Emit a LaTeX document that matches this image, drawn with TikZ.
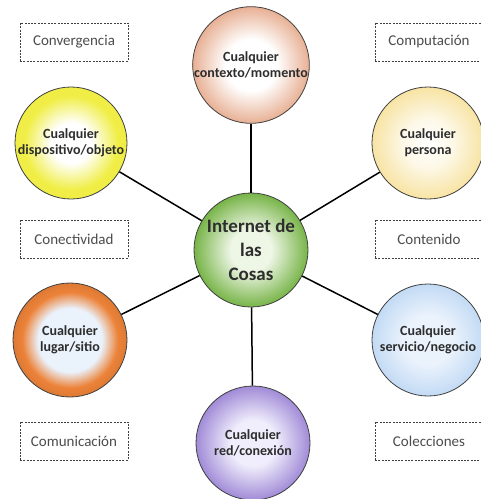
\documentclass[tikz,border=0pt]{standalone}
\usepackage{fontspec}
\setmainfont{Carlito}
\usetikzlibrary{positioning}

\definecolor{peach}{RGB}{230,170,140}
\definecolor{lemon}{RGB}{240,238,70}
\definecolor{cream}{RGB}{247,226,158}
\definecolor{leaf}{RGB}{112,176,62}
\definecolor{leafpale}{RGB}{238,246,230}
\definecolor{orng}{RGB}{236,130,56}
\definecolor{paleblue}{RGB}{234,242,252}
\definecolor{sky}{RGB}{192,217,244}
\definecolor{lilac}{RGB}{155,132,212}
\definecolor{lilacpale}{RGB}{240,238,252}
\definecolor{ink}{RGB}{45,45,45}

% radial fills for the seven discs
\pgfdeclareradialshading{ctxfill}{\pgfpoint{0bp}{0bp}}{color(0bp)=(white); color(11bp)=(white); color(26bp)=(peach); color(50bp)=(peach)}
\pgfdeclareradialshading{dispfill}{\pgfpoint{0bp}{0bp}}{color(0bp)=(white); color(9bp)=(white); color(21bp)=(lemon); color(50bp)=(lemon)}
\pgfdeclareradialshading{persfill}{\pgfpoint{0bp}{0bp}}{color(0bp)=(white); color(11bp)=(cream!25); color(26bp)=(cream); color(50bp)=(cream)}
\pgfdeclareradialshading{iotfill}{\pgfpoint{0bp}{0bp}}{color(0bp)=(leafpale); color(9bp)=(leafpale); color(26bp)=(leaf); color(50bp)=(leaf)}
\pgfdeclareradialshading{lugarfill}{\pgfpoint{0bp}{0bp}}{color(0bp)=(paleblue); color(14bp)=(paleblue); color(21bp)=(orng); color(26bp)=(orng!92!black); color(50bp)=(orng!92!black)}
\pgfdeclareradialshading{servfill}{\pgfpoint{0bp}{0bp}}{color(0bp)=(paleblue); color(11bp)=(paleblue); color(26bp)=(sky); color(50bp)=(sky)}
\pgfdeclareradialshading{redfill}{\pgfpoint{0bp}{0bp}}{color(0bp)=(lilacpale); color(10bp)=(lilacpale); color(26bp)=(lilac); color(50bp)=(lilac)}

\begin{document}
\begin{tikzpicture}[x=1pt, y=-1pt,
    disc/.style = {draw=black!75, line width=0.8pt, circle, minimum size=114pt, inner sep=0pt,
                   align=center, text=ink, font=\bfseries\fontsize{14}{16}\selectfont},
    tag/.style = {draw=black!75, dashed, dash pattern=on 2pt off 1.3pt, line width=0.7pt,
                  minimum width=108pt, minimum height=38pt, inner sep=0pt,
                  text=ink!85, font=\fontsize{15}{17}\selectfont},
    spoke/.style = {line width=1.5pt, black}]
    \useasboundingbox (0,0) rectangle (481,499);
    % hub and the six discs round it
    \node[disc, shading=iotfill, font=\bfseries\fontsize{19}{24}\selectfont] (iot) at (251,250) {Internet de\\las\\Cosas};
    \node[disc, shading=ctxfill] (ctx) at (251,65) {Cualquier\\contexto/momento};
    \node[disc, shading=dispfill, minimum size=112pt] (disp) at (71,143) {Cualquier\\dispositivo/objeto};
    \node[disc, shading=persfill, minimum size=112pt] (pers) at (428,143) {Cualquier\\persona};
    \node[disc, shading=lugarfill] (lugar) at (70,340) {Cualquier\\lugar/sitio};
    \node[disc, shading=servfill, minimum size=112pt] (serv) at (428,340) {Cualquier\\servicio/negocio};
    \node[disc, shading=redfill] (red) at (253,443) {Cualquier\\red/conexión};
    % dashed labels
    \node[tag] (conv) at (74,42) {Convergencia};
    \node[tag] (comp) at (429,42) {Computación};
    \node[tag] (conect) at (74,239) {Conectividad};
    \node[tag] (cont) at (429,239) {Contenido};
    \node[tag] (comun) at (74,441) {Comunicación};
    \node[tag] (colec) at (429,441) {Colecciones};
    % spokes
    \draw[spoke] (iot) -- (ctx);
    \draw[spoke] (iot) -- (disp);
    \draw[spoke] (iot) -- (pers);
    \draw[spoke] (iot) -- (lugar);
    \draw[spoke] (iot) -- (serv);
    \draw[spoke] (iot) -- (red);
\end{tikzpicture}
\end{document}
